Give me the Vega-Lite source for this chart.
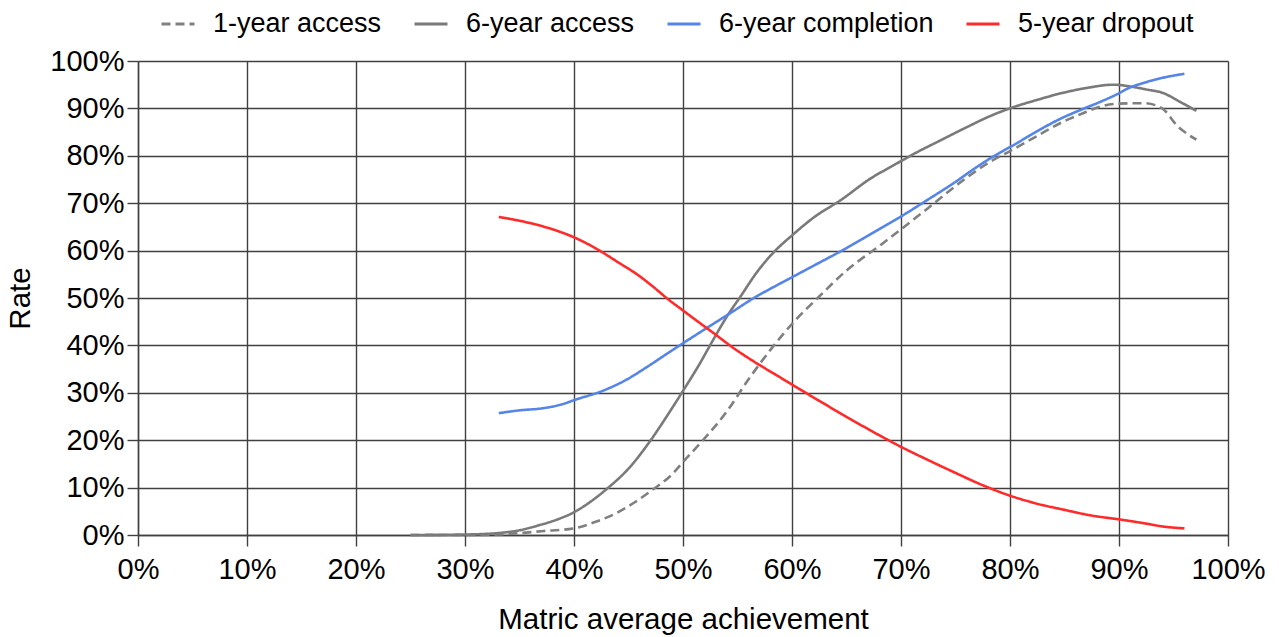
{
  "$schema": "https://vega.github.io/schema/vega-lite/v6.json",
  "autosize": {"type": "none"},
  "padding": {"left": 138, "top": 61, "right": 51, "bottom": 102},
  "width": 1090,
  "height": 474,
  "background": "white",
  "config": {
    "font": "Liberation Sans",
    "view": {"stroke": null},
    "axis": {
      "labelFont": "Liberation Sans",
      "titleFont": "Liberation Sans",
      "labelFontSize": 29,
      "titleFontSize": 29.5,
      "labelColor": "#000000",
      "titleColor": "#000000",
      "titleFontWeight": "normal",
      "grid": true,
      "gridColor": "#404040",
      "gridWidth": 1.4,
      "domainColor": "#404040",
      "domainWidth": 1.4,
      "tickColor": "#404040",
      "tickWidth": 1.4,
      "tickSize": 11,
      "labelFlush": false,
      "labelOverlap": false
    },
    "legend": {
      "labelFont": "Liberation Sans",
      "labelFontSize": 27,
      "labelColor": "#000000",
      "labelLimit": 0
    }
  },
  "data": {
    "values": [
      {"series": "1-year access", "x": 25, "y": 0},
      {"series": "1-year access", "x": 30, "y": 0},
      {"series": "1-year access", "x": 33, "y": 0.1},
      {"series": "1-year access", "x": 35, "y": 0.4},
      {"series": "1-year access", "x": 37, "y": 0.8},
      {"series": "1-year access", "x": 40, "y": 1.4},
      {"series": "1-year access", "x": 42, "y": 2.8},
      {"series": "1-year access", "x": 43.7, "y": 4.4},
      {"series": "1-year access", "x": 45.5, "y": 6.8},
      {"series": "1-year access", "x": 47.3, "y": 9.7},
      {"series": "1-year access", "x": 49, "y": 12.8},
      {"series": "1-year access", "x": 50, "y": 15.4},
      {"series": "1-year access", "x": 51.8, "y": 19.9},
      {"series": "1-year access", "x": 54, "y": 26},
      {"series": "1-year access", "x": 56, "y": 32.8},
      {"series": "1-year access", "x": 58, "y": 39},
      {"series": "1-year access", "x": 60.1, "y": 44.8},
      {"series": "1-year access", "x": 62.4, "y": 50.1},
      {"series": "1-year access", "x": 65, "y": 55.8},
      {"series": "1-year access", "x": 68.2, "y": 61.3},
      {"series": "1-year access", "x": 70, "y": 64.5},
      {"series": "1-year access", "x": 72.5, "y": 69},
      {"series": "1-year access", "x": 75.5, "y": 74.5},
      {"series": "1-year access", "x": 78, "y": 78.5},
      {"series": "1-year access", "x": 80, "y": 81},
      {"series": "1-year access", "x": 82.5, "y": 84.2},
      {"series": "1-year access", "x": 84.7, "y": 87},
      {"series": "1-year access", "x": 86.5, "y": 88.8},
      {"series": "1-year access", "x": 88.3, "y": 90.4},
      {"series": "1-year access", "x": 90, "y": 91},
      {"series": "1-year access", "x": 92.3, "y": 91.1},
      {"series": "1-year access", "x": 93.9, "y": 90.1},
      {"series": "1-year access", "x": 95.4, "y": 86.2},
      {"series": "1-year access", "x": 97.1, "y": 83.4},

      {"series": "6-year access", "x": 25, "y": 0},
      {"series": "6-year access", "x": 30, "y": 0.1},
      {"series": "6-year access", "x": 33, "y": 0.4},
      {"series": "6-year access", "x": 35, "y": 1},
      {"series": "6-year access", "x": 36.7, "y": 2},
      {"series": "6-year access", "x": 38.5, "y": 3.3},
      {"series": "6-year access", "x": 40, "y": 4.8},
      {"series": "6-year access", "x": 41.5, "y": 7},
      {"series": "6-year access", "x": 43.1, "y": 9.9},
      {"series": "6-year access", "x": 45, "y": 14},
      {"series": "6-year access", "x": 47.1, "y": 20.2},
      {"series": "6-year access", "x": 48.5, "y": 25},
      {"series": "6-year access", "x": 50, "y": 30.4},
      {"series": "6-year access", "x": 51.5, "y": 36},
      {"series": "6-year access", "x": 52.8, "y": 41.3},
      {"series": "6-year access", "x": 54, "y": 46},
      {"series": "6-year access", "x": 55.3, "y": 50.4},
      {"series": "6-year access", "x": 56.8, "y": 55.5},
      {"series": "6-year access", "x": 58.3, "y": 59.6},
      {"series": "6-year access", "x": 60.1, "y": 63.4},
      {"series": "6-year access", "x": 62, "y": 67},
      {"series": "6-year access", "x": 64.5, "y": 70.7},
      {"series": "6-year access", "x": 67.2, "y": 75.2},
      {"series": "6-year access", "x": 69.4, "y": 78.1},
      {"series": "6-year access", "x": 71.5, "y": 80.8},
      {"series": "6-year access", "x": 73.4, "y": 83},
      {"series": "6-year access", "x": 76, "y": 86},
      {"series": "6-year access", "x": 78, "y": 88.2},
      {"series": "6-year access", "x": 80.1, "y": 90.1},
      {"series": "6-year access", "x": 82.5, "y": 91.8},
      {"series": "6-year access", "x": 84.7, "y": 93.2},
      {"series": "6-year access", "x": 87, "y": 94.3},
      {"series": "6-year access", "x": 89.5, "y": 95},
      {"series": "6-year access", "x": 91.1, "y": 94.6},
      {"series": "6-year access", "x": 92.5, "y": 94},
      {"series": "6-year access", "x": 94.1, "y": 93.2},
      {"series": "6-year access", "x": 95.5, "y": 91.5},
      {"series": "6-year access", "x": 97.1, "y": 89.5},

      {"series": "6-year completion", "x": 33.1, "y": 25.7},
      {"series": "6-year completion", "x": 35, "y": 26.3},
      {"series": "6-year completion", "x": 37, "y": 26.7},
      {"series": "6-year completion", "x": 38.8, "y": 27.5},
      {"series": "6-year completion", "x": 40.2, "y": 28.6},
      {"series": "6-year completion", "x": 42.5, "y": 30.3},
      {"series": "6-year completion", "x": 44.6, "y": 32.5},
      {"series": "6-year completion", "x": 46.8, "y": 35.6},
      {"series": "6-year completion", "x": 48.5, "y": 38.2},
      {"series": "6-year completion", "x": 50.1, "y": 40.6},
      {"series": "6-year completion", "x": 52.2, "y": 43.7},
      {"series": "6-year completion", "x": 54.4, "y": 46.9},
      {"series": "6-year completion", "x": 56.5, "y": 50},
      {"series": "6-year completion", "x": 58.3, "y": 52.3},
      {"series": "6-year completion", "x": 60.1, "y": 54.5},
      {"series": "6-year completion", "x": 62.3, "y": 57.2},
      {"series": "6-year completion", "x": 64.5, "y": 59.9},
      {"series": "6-year completion", "x": 66.5, "y": 62.5},
      {"series": "6-year completion", "x": 68.2, "y": 64.8},
      {"series": "6-year completion", "x": 70, "y": 67.2},
      {"series": "6-year completion", "x": 72.5, "y": 70.8},
      {"series": "6-year completion", "x": 75, "y": 74.5},
      {"series": "6-year completion", "x": 76.8, "y": 77.4},
      {"series": "6-year completion", "x": 78.5, "y": 79.9},
      {"series": "6-year completion", "x": 80.5, "y": 82.5},
      {"series": "6-year completion", "x": 82.5, "y": 85.2},
      {"series": "6-year completion", "x": 84.7, "y": 87.9},
      {"series": "6-year completion", "x": 86.5, "y": 89.7},
      {"series": "6-year completion", "x": 88.3, "y": 91.4},
      {"series": "6-year completion", "x": 90, "y": 93.2},
      {"series": "6-year completion", "x": 90.8, "y": 94.2},
      {"series": "6-year completion", "x": 92.3, "y": 95.4},
      {"series": "6-year completion", "x": 93.9, "y": 96.4},
      {"series": "6-year completion", "x": 96, "y": 97.3},

      {"series": "5-year dropout", "x": 33.1, "y": 67.1},
      {"series": "5-year dropout", "x": 35, "y": 66.3},
      {"series": "5-year dropout", "x": 37, "y": 65.2},
      {"series": "5-year dropout", "x": 38.8, "y": 63.9},
      {"series": "5-year dropout", "x": 40.2, "y": 62.6},
      {"series": "5-year dropout", "x": 42.2, "y": 60.2},
      {"series": "5-year dropout", "x": 44, "y": 57.6},
      {"series": "5-year dropout", "x": 45.9, "y": 54.8},
      {"series": "5-year dropout", "x": 47.3, "y": 52.3},
      {"series": "5-year dropout", "x": 48.6, "y": 49.8},
      {"series": "5-year dropout", "x": 50.1, "y": 47.2},
      {"series": "5-year dropout", "x": 51.5, "y": 44.8},
      {"series": "5-year dropout", "x": 52.8, "y": 42.6},
      {"series": "5-year dropout", "x": 54.6, "y": 39.5},
      {"series": "5-year dropout", "x": 56.5, "y": 36.6},
      {"series": "5-year dropout", "x": 58.3, "y": 34.1},
      {"series": "5-year dropout", "x": 60.1, "y": 31.6},
      {"series": "5-year dropout", "x": 62.5, "y": 28.3},
      {"series": "5-year dropout", "x": 65.1, "y": 24.8},
      {"series": "5-year dropout", "x": 68.2, "y": 20.8},
      {"series": "5-year dropout", "x": 70, "y": 18.6},
      {"series": "5-year dropout", "x": 72.5, "y": 15.8},
      {"series": "5-year dropout", "x": 75, "y": 13.1},
      {"series": "5-year dropout", "x": 77.5, "y": 10.5},
      {"series": "5-year dropout", "x": 80, "y": 8.3},
      {"series": "5-year dropout", "x": 82.5, "y": 6.6},
      {"series": "5-year dropout", "x": 85, "y": 5.3},
      {"series": "5-year dropout", "x": 87.5, "y": 4.1},
      {"series": "5-year dropout", "x": 90, "y": 3.3},
      {"series": "5-year dropout", "x": 92.5, "y": 2.4},
      {"series": "5-year dropout", "x": 94, "y": 1.8},
      {"series": "5-year dropout", "x": 96, "y": 1.4}
    ]
  },
  "mark": {"type": "line", "strokeWidth": 2.6, "interpolate": "monotone"},
  "encoding": {
    "x": {
      "field": "x",
      "type": "quantitative",
      "scale": {"domain": [0, 100], "nice": false, "zero": false},
      "axis": {
        "title": "Matric average achievement",
        "values": [0, 10, 20, 30, 40, 50, 60, 70, 80, 90, 100],
        "labelExpr": "datum.label + '%'",
        "labelPadding": 9,
        "titlePadding": 21
      }
    },
    "y": {
      "field": "y",
      "type": "quantitative",
      "scale": {"domain": [0, 100], "nice": false},
      "axis": {
        "title": "Rate",
        "values": [0, 10, 20, 30, 40, 50, 60, 70, 80, 90, 100],
        "labelExpr": "datum.label + '%'",
        "labelPadding": 3,
        "titlePadding": 14
      }
    },
    "color": {
      "field": "series",
      "type": "nominal",
      "scale": {
        "domain": ["1-year access", "6-year access", "6-year completion", "5-year dropout"],
        "range": ["#808080", "#7a7a7a", "#5585e8", "#ff2b2b"]
      },
      "legend": {
        "title": null,
        "orient": "none",
        "direction": "horizontal",
        "legendX": 22,
        "legendY": -55,
        "symbolType": "stroke",
        "symbolSize": 1089,
        "symbolStrokeWidth": 3,
        "labelOffset": 17,
        "labelLimit": 0,
        "columnPadding": 26
      }
    },
    "strokeDash": {
      "field": "series",
      "type": "nominal",
      "scale": {
        "domain": ["1-year access", "6-year access", "6-year completion", "5-year dropout"],
        "range": [[9, 5], [1, 0], [1, 0], [1, 0]]
      },
      "legend": {
        "title": null,
        "orient": "none",
        "direction": "horizontal",
        "legendX": 22,
        "legendY": -55,
        "symbolType": "stroke",
        "symbolSize": 1089,
        "symbolStrokeWidth": 3,
        "labelOffset": 17,
        "labelLimit": 0,
        "columnPadding": 26
      }
    }
  }
}
